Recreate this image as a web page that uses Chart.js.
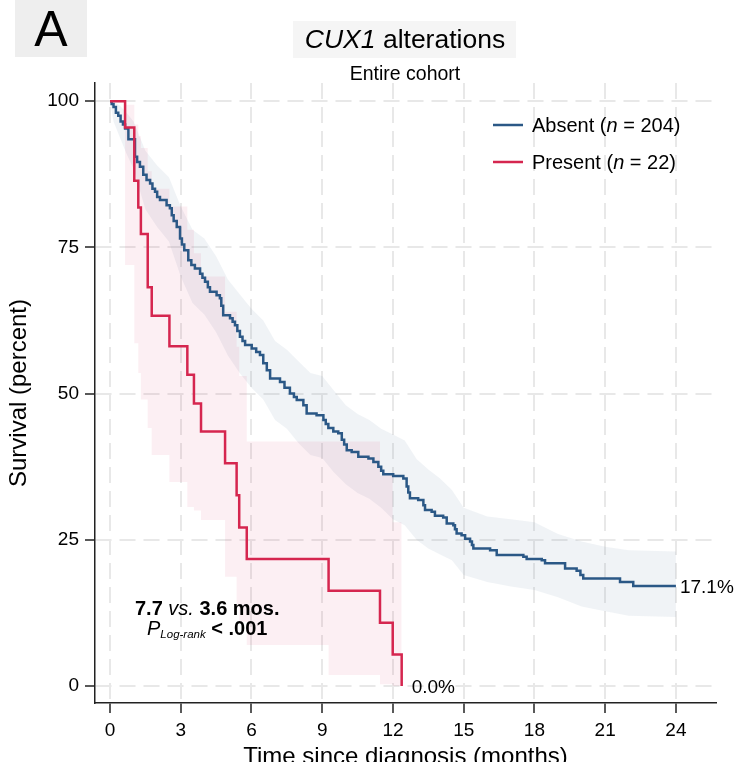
<!DOCTYPE html>
<html><head><meta charset="utf-8">
<script src="https://cdn.jsdelivr.net/npm/chart.js@4.4.1/dist/chart.umd.min.js"></script>
<style>html,body{margin:0;padding:0;background:#fff;}canvas{display:block;}</style>
</head><body>
<canvas id="c" width="735" height="762"></canvas>
<script>
// ---- data ----
const xTicks = [0, 3, 6, 9, 12, 15, 18, 21, 24];
const yTicks = [0, 25, 50, 75, 100];

// Absent (n = 204) Kaplan-Meier steps
const absentTime = [0,0.07,0.15,0.25,0.35,0.45,0.55,0.64,0.78,1.06,1.15,1.27,1.41,1.55,1.70,1.80,1.91,2.00,2.12,2.40,2.54,2.62,2.70,2.83,2.97,3.05,3.15,3.32,3.45,3.60,3.82,3.92,4.03,4.15,4.24,4.52,4.66,4.72,4.80,5.09,5.20,5.30,5.40,5.51,5.62,5.73,6.01,6.20,6.36,6.50,6.65,6.79,7.21,7.40,7.63,7.80,7.92,8.20,8.34,8.76,9.05,9.15,9.26,9.47,9.68,9.83,9.93,10.04,10.25,10.53,10.96,11.17,11.38,11.50,11.59,12.01,12.44,12.58,12.65,12.72,13.07,13.29,13.36,13.64,13.78,14.13,14.28,14.56,14.63,14.70,14.91,15.06,15.27,15.35,15.41,16.12,16.40,17.53,17.67,18.31,18.45,19.30,19.79,19.95,20.07,21.63,22.19,24.00];
const absentSurv = [100,99.5,99.0,98.0,97.5,96.5,96.0,95.3,93.5,90.5,89.6,88.8,87.4,86.5,85.9,85.0,84.5,83.6,83.1,82.2,81.7,80.5,79.5,78.5,76.5,75.5,74.5,72.8,72.0,71.4,70.5,69.8,69.1,68.2,67.4,66.8,66.3,65.0,63.4,62.9,62.3,61.7,60.7,59.7,59.0,58.3,57.7,57.1,56.6,55.2,54.0,52.6,52.0,51.0,50.0,49.4,48.9,48.0,46.6,46.3,45.5,44.8,44.1,43.5,43.2,42.1,41.3,40.3,40.0,39.2,38.9,38.3,37.5,36.8,36.2,35.9,35.5,34.1,33.1,32.1,31.8,30.9,30.1,29.8,29.1,28.8,27.8,27.5,26.8,26.1,25.8,25.2,24.7,24.1,23.5,23.2,22.4,22.1,21.7,21.5,21.0,20.1,19.7,19.0,18.4,17.8,17.1,17.1];

// Absent 95% CI band
const absentBandTime = [0,0.15,0.4,0.7,1.0,1.5,2.0,2.5,3.0,3.5,4.0,4.5,5.0,5.5,6.0,6.5,7.0,7.5,8.0,8.5,9.0,9.5,10.0,10.5,11.0,11.5,12.0,12.5,13.0,13.5,14.0,14.5,15.0,16.0,17.0,18.0,19.0,20.0,21.0,22.0,24.0];
const absentLower = [100,96.5,94,91,88.5,81.5,78.5,76,70,65.5,63.5,60.5,56.5,53.5,51,49,45.5,44,41.5,39.5,39,36.5,34.5,33,32,30.5,28.5,27.5,25,23.5,22.5,21.5,19,17.8,17,16.4,15.2,13.6,12.8,12,11.8];
const absentUpper = [100,99.9,99.3,98,96.5,91.5,89,87,82,78,76.5,73.5,69.5,67,64.5,62.5,59,57.5,55.5,53.5,53,50.5,48,46.5,45.5,44,43,42,38.8,37,35.5,33.5,30.5,29,28.5,28,26,24.7,23.8,23.2,23];

// Present (n = 22) Kaplan-Meier steps
const presentTime = [0,0.64,1.03,1.20,1.31,1.60,1.77,2.52,3.28,3.56,3.86,4.88,5.37,5.48,5.80,9.27,11.45,11.99,12.37];
const presentSurv = [100,95.5,86.4,81.8,77.3,68.2,63.3,58.1,53.2,48.3,43.5,38.1,32.6,27.1,21.7,16.3,10.8,5.4,0];
const presentLower = [100,72,58.6,53.5,49,44.1,39.5,34.9,30.6,30,28.4,18.7,14,11,7,1.9,0.3,0,0];
const presentUpper = [100,99.4,96,94,92,88,85,82,78,74,70,64,58,53,41.8,41.8,36,28,28];

const groupNames = ['Absent', 'Present'];
const groupN = [204, 22];
const endLabels = ['17.1%', '0.0%'];

// ---- styling ----
const F = '"Liberation Sans", Arial, Helvetica, sans-serif';
const BLUE = '#2b5886';
const RED = '#d5264f';
const BLUE_BAND = 'rgba(110,135,170,0.10)';
const RED_BAND = 'rgba(215,40,90,0.075)';
const GRID = '#e8e8e8';
const AXIS = '#222';

function pts(xs, ys) { return xs.map((x, i) => ({x: x, y: ys[i]})); }

function runs(ctx, parts, x, y, align) {
  let w = 0;
  parts.forEach(p => { ctx.font = p[1]; w += ctx.measureText(p[0]).width; });
  let cx = align === 'center' ? x - w / 2 : x;
  parts.forEach(p => {
    ctx.font = p[1];
    ctx.fillText(p[0], cx, y + (p[2] || 0));
    cx += ctx.measureText(p[0]).width;
  });
}

const decor = {
  id: 'decor',
  beforeDraw(chart) {
    const ctx = chart.ctx;
    ctx.save();
    ctx.fillStyle = '#fff';
    ctx.fillRect(0, 0, chart.width, chart.height);
    ctx.restore();
  },
  afterDraw(chart) {
    const ctx = chart.ctx;
    const xs = chart.scales.x, ys = chart.scales.y;
    ctx.save();
    ctx.textBaseline = 'alphabetic';
    ctx.textAlign = 'left';
    // panel letter box
    ctx.fillStyle = '#eeeeee';
    ctx.fillRect(15, 0, 72, 57);
    ctx.fillStyle = '#000';
    runs(ctx, [['A', '50px ' + F]], 51, 46, 'center');
    // title box + title
    ctx.fillStyle = '#f5f5f5';
    ctx.fillRect(293, 21, 223, 37);
    ctx.fillStyle = '#000';
    runs(ctx, [['CUX1', 'italic 26.5px ' + F], [' alterations', '26.5px ' + F]], 405, 48, 'center');
    runs(ctx, [['Entire cohort', '19.5px ' + F]], 405, 80, 'center');

    // legend
    const legendColors = [BLUE, RED];
    const legendY = [125, 162];
    for (let i = 0; i < groupNames.length; i++) {
      ctx.strokeStyle = legendColors[i];
      ctx.lineWidth = 2.5;
      ctx.beginPath();
      ctx.moveTo(493, legendY[i]);
      ctx.lineTo(523, legendY[i]);
      ctx.stroke();
      ctx.fillStyle = '#000';
      runs(ctx, [[groupNames[i] + ' (', '20px ' + F], ['n', 'italic 20px ' + F], [' = ' + groupN[i] + ')', '20px ' + F]], 532, legendY[i] + 7.2, 'left');
    }

    // end labels
    ctx.fillStyle = '#000';
    const aEnd = absentTime.length - 1, pEnd = presentTime.length - 1;
    runs(ctx, [[endLabels[0], '19px ' + F]], xs.getPixelForValue(absentTime[aEnd]) + 4, ys.getPixelForValue(absentSurv[aEnd]) + 6.8, 'left');
    runs(ctx, [[endLabels[1], '19px ' + F]], xs.getPixelForValue(presentTime[pEnd]) + 10, ys.getPixelForValue(presentSurv[pEnd]) + 7, 'left');

    // annotation
    runs(ctx, [['7.7 ', 'bold 20px ' + F], ['vs.', 'italic 20px ' + F], [' 3.6 mos.', 'bold 20px ' + F]], 135, 615, 'left');
    runs(ctx, [['P', 'italic 20px ' + F], ['Log-rank', 'italic 11.5px ' + F, 3], [' < .001', 'bold 20px ' + F]], 147, 635, 'left');
    ctx.restore();
  }
};

const axisCommon = {
  type: 'linear',
  grid: { color: GRID, lineWidth: 2, drawTicks: true, tickColor: AXIS, tickLength: 10, tickWidth: 1.5, tickBorderDash: [] },
  border: { display: true, color: AXIS, width: 1.5, dash: [16, 8] },
};

new Chart(document.getElementById('c'), {
  type: 'line',
  data: {
    datasets: [
      { data: pts(absentBandTime, absentLower), borderColor: 'rgba(0,0,0,0)', borderWidth: 0, pointRadius: 0, fill: false, order: 5 },
      { data: pts(absentBandTime, absentUpper), borderColor: 'rgba(0,0,0,0)', borderWidth: 0, pointRadius: 0, fill: '-1', backgroundColor: BLUE_BAND, order: 5 },
      { data: pts(presentTime, presentLower), borderColor: 'rgba(0,0,0,0)', borderWidth: 0, pointRadius: 0, stepped: true, fill: false, order: 4 },
      { data: pts(presentTime, presentUpper), borderColor: 'rgba(0,0,0,0)', borderWidth: 0, pointRadius: 0, stepped: true, fill: '-1', backgroundColor: RED_BAND, order: 4 },
      { label: 'Absent', data: pts(absentTime, absentSurv), borderColor: BLUE, borderWidth: 2.5, pointRadius: 0, stepped: true, fill: false, order: 1 },
      { label: 'Present', data: pts(presentTime, presentSurv), borderColor: RED, borderWidth: 2.5, pointRadius: 0, stepped: true, fill: false, order: 0 }
    ]
  },
  options: {
    responsive: false,
    animation: false,
    events: [],
    devicePixelRatio: 1,
    layout: { padding: { top: 83, right: 19, left: 0, bottom: 0 } },
    plugins: { legend: { display: false }, tooltip: { enabled: false }, title: { display: false } },
    scales: {
      x: Object.assign({}, axisCommon, {
        min: -0.636, max: 25.70,
        afterBuildTicks: s => { s.ticks = xTicks.map(v => ({ value: v })); },
        afterFit: s => { s.height = 59; },
        ticks: { font: { size: 19, family: F }, color: '#000', padding: 6, maxRotation: 0, autoSkip: false },
        title: { display: true, text: 'Time since diagnosis (months)', color: '#000', font: { size: 24, family: F, lineHeight: 0.4 }, padding: 0 }
      }),
      y: Object.assign({}, axisCommon, {
        min: -2.9, max: 103.1,
        afterBuildTicks: s => { s.ticks = yTicks.map(v => ({ value: v })); },
        afterFit: s => { s.width = 95; },
        ticks: { font: { size: 19, family: F }, color: '#000', padding: 6 },
        title: { display: true, text: 'Survival (percent)', color: '#000', font: { size: 24, family: F }, padding: { top: 5, bottom: 0 } }
      })
    }
  },
  plugins: [decor]
});
</script>
</body></html>
